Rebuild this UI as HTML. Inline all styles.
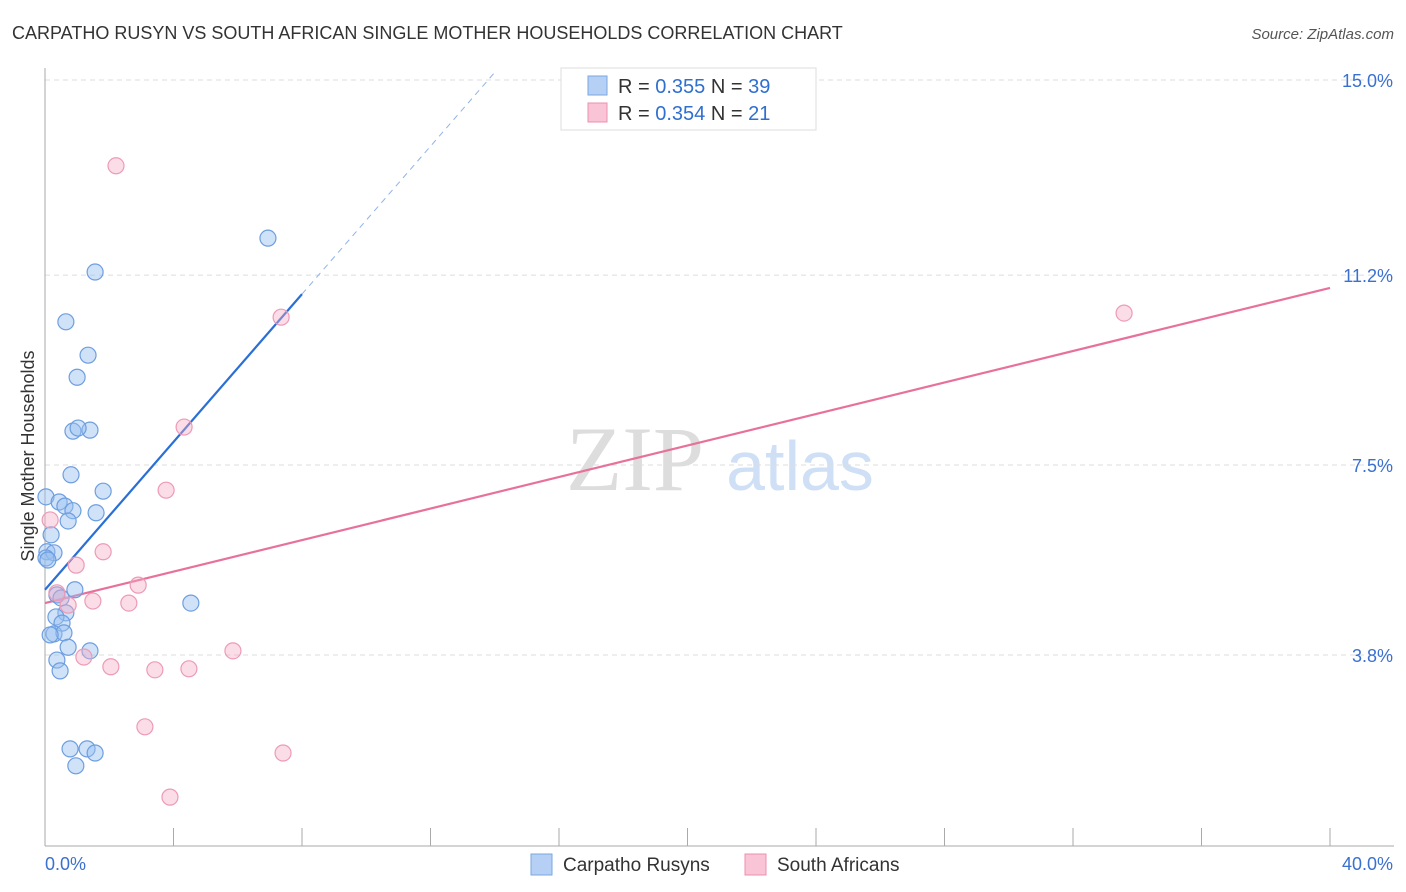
<!DOCTYPE html>
<html><head><meta charset="utf-8"><style>
body{margin:0;background:#fff;font-family:"Liberation Sans",sans-serif;}
svg{display:block}
</style></head><body>
<svg id="chart" width="1406" height="892" xmlns="http://www.w3.org/2000/svg">
<text x="12" y="39" font-size="18" fill="#333">CARPATHO RUSYN VS SOUTH AFRICAN SINGLE MOTHER HOUSEHOLDS CORRELATION CHART</text>
<text x="1394" y="39" font-size="15" fill="#555" font-style="italic" text-anchor="end">Source: ZipAtlas.com</text>
<g><text x="635" y="490" font-size="92" fill="#ddd" font-family="Liberation Serif,serif" text-anchor="middle">ZIP</text><text x="800" y="490" font-size="70" fill="#cfdff5" text-anchor="middle">atlas</text></g>
<g id="grid"></g><g id="axes"></g><g id="lines"></g><g id="pts"></g>
<text transform="translate(34,456) rotate(-90)" font-size="18" fill="#333" text-anchor="middle">Single Mother Households</text>
<g>
<rect x="561" y="68" width="255" height="62" fill="#fff" stroke="#ddd"/>
<rect x="588" y="76" width="19" height="19" fill="#b5d0f4" stroke="#7aa7e0"/>
<rect x="588" y="103" width="19" height="19" fill="#f9c4d5" stroke="#ec8fae"/>
<text x="618" y="93" font-size="20" fill="#333">R = <tspan fill="#2f6fd0">0.355</tspan>   N = <tspan fill="#2f6fd0">39</tspan></text>
<text x="618" y="120" font-size="20" fill="#333">R = <tspan fill="#2f6fd0">0.354</tspan>   N =  <tspan fill="#2f6fd0">21</tspan></text>
</g>
<g>
<rect x="531" y="854" width="21" height="21" fill="#b5d0f4" stroke="#7aa7e0"/>
<text x="563" y="871" font-size="19" fill="#333">Carpatho Rusyns</text>
<rect x="745" y="854" width="21" height="21" fill="#f9c4d5" stroke="#ec8fae"/>
<text x="777" y="871" font-size="19" fill="#333">South Africans</text>
</g>
</svg>
<script>
const xTicks=[0,4,8,12,16,20,24,28,32,36,40];
const yTicks=[3.8,7.5,11.2,15.0];
const yTickLabels=["3.8%","7.5%","11.2%","15.0%"];
const rusynX=[6.94,1.56,0.65,1.34,1.00,0.87,1.40,1.03,0.81,1.81,0.03,0.44,0.62,0.87,1.59,0.72,0.19,0.06,0.28,0.03,0.93,0.37,0.50,4.54,0.65,0.34,0.53,0.28,0.59,0.16,0.72,1.40,0.37,0.47,0.78,1.31,1.56,0.96,0.09];
const rusynY=[11.92,11.26,10.29,9.64,9.21,8.16,8.18,8.22,7.31,6.99,6.88,6.78,6.70,6.61,6.57,6.41,6.14,5.81,5.79,5.69,5.07,4.97,4.91,4.81,4.62,4.54,4.42,4.21,4.23,4.19,3.95,3.88,3.70,3.49,1.97,1.97,1.89,1.64,5.65];
const africanX=[2.21,7.35,33.59,4.33,3.77,1.81,0.16,0.97,2.90,0.37,1.49,2.61,0.72,1.21,2.05,3.42,4.48,5.85,3.11,7.41,3.89];
const africanY=[13.33,10.38,10.46,8.24,7.01,5.81,6.43,5.55,5.16,5.01,4.85,4.81,4.77,3.76,3.57,3.51,3.53,3.88,2.40,1.89,1.03];
const rusynTrend=[5.07,0.72];   // intercept, slope
const africanTrend=[4.81,0.1535];
const X=v=>45+v*1285/40, Y=v=>850-v*51.33;
const NS="http://www.w3.org/2000/svg";
function mk(p,t,a){const e=document.createElementNS(NS,t);for(const k in a)e.setAttribute(k,a[k]);document.getElementById(p).appendChild(e);return e;}
yTicks.forEach((t,i)=>{
 const g=mk('grid','line',{x1:45,x2:1394,y1:Y(t),y2:Y(t),stroke:'#ddd','stroke-dasharray':'5,4'});
 
 
 const l=mk('axes','text',{x:1393,y:Y(t)+7,'font-size':18,fill:'#3a70d0','text-anchor':'end'});
 l.textContent=yTickLabels[i];
 
 
});
const gt=mk('grid','line',{x1:45,x2:1394,y1:80,y2:80,stroke:'#ddd','stroke-dasharray':'5,4'});
mk('axes','line',{x1:45,x2:45,y1:68,y2:846,stroke:'#aaa'});
mk('axes','line',{x1:45,x2:1394,y1:846,y2:846,stroke:'#aaa'});
xTicks.forEach(t=>{
 const k=mk('axes','line',{x1:X(t),x2:X(t),y1:828,y2:846,stroke:'#aaa'});
 
 
});
const x0=mk('axes','text',{x:45,y:870,'font-size':18,fill:'#3a70d0'});x0.textContent='0.0%';


const x1=mk('axes','text',{x:1393,y:870,'font-size':18,fill:'#3a70d0','text-anchor':'end'});x1.textContent='40.0%';


const rf=v=>rusynTrend[0]+rusynTrend[1]*v, af=v=>africanTrend[0]+africanTrend[1]*v;
const bl=mk('lines','line',{x1:X(0),y1:Y(rf(0)),x2:X(8),y2:Y(rf(8)),stroke:'#2a6fd6','stroke-width':2.2});


const bd=mk('lines','line',{x1:X(8),y1:Y(rf(8)),x2:X(14),y2:Y(rf(14)),stroke:'#8fb3e8','stroke-width':1,'stroke-dasharray':'6,5'});


const pl=mk('lines','line',{x1:X(0),y1:Y(af(0)),x2:X(40),y2:Y(af(40)),stroke:'#e8719b','stroke-width':2.2});


rusynX.forEach((v,i)=>{
 const c=mk('pts','circle',{cx:X(v),cy:Y(rusynY[i]),r:8,fill:'rgba(150,190,240,0.45)',stroke:'#6d9ee0','stroke-width':1.2});
 
 
});
africanX.forEach((v,i)=>{
 const c=mk('pts','circle',{cx:X(v),cy:Y(africanY[i]),r:8,fill:'rgba(245,170,195,0.4)',stroke:'#ee9ab6','stroke-width':1.2});
 
 
});
</script>
</body></html>
